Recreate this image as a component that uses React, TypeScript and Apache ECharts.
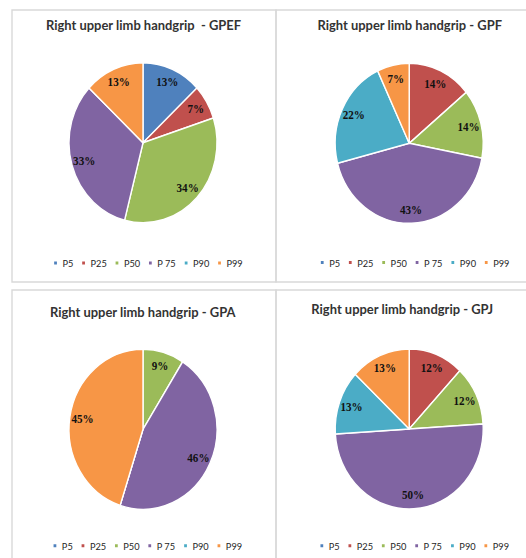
import React, { useEffect, useRef } from "react";
import * as echarts from "echarts";

// Percentile groups shown in every pie
const categories = ["P5", "P25", "P50", "P 75", "P90", "P99"];
const sliceColors = ["#4F81BD", "#C0504D", "#9BBB59", "#8064A2", "#4BACC6", "#F79646"];

// Share of subjects (%) per percentile group
const gpefValues = [13, 7, 34, 33, 0, 13];
const gpfValues = [0, 14, 14, 43, 22, 7];
const gpaValues = [0, 0, 9, 46, 0, 45];
const gpjValues = [0, 12, 12, 50, 13, 13];

const chartTitles = [
  "Right upper limb handgrip  - GPEF",
  "Right upper limb handgrip - GPF",
  "Right upper limb handgrip - GPA",
  "Right upper limb handgrip - GPJ",
];

// The whole figure is drawn slightly condensed horizontally
const SX = 0.925;
const W = 526 / SX;
const H = 558;
const X = (v: number) => v / SX;

const R = 80;

// Layout of the four panels (page pixels)
const panels = [
  { values: gpefValues, title: chartTitles[0], cx: 143, cy: 142.7, tx: 143.5, ty: 25, lx: 52.3, ly: 264 },
  { values: gpfValues, title: chartTitles[1], cx: 409.2, cy: 143.3, tx: 409.7, ty: 25, lx: 319, ly: 263.5 },
  { values: gpaValues, title: chartTitles[2], cx: 143, cy: 429.3, tx: 142.7, ty: 311.7, lx: 51.7, ly: 546.7 },
  { values: gpjValues, title: chartTitles[3], cx: 409.2, cy: 429, tx: 402.2, ty: 309.3, lx: 318.6, ly: 546.7 },
];

export default function App() {
  const ref = useRef<HTMLDivElement>(null);

  useEffect(() => {
    if (!ref.current) return;
    document.body.style.overflow = "hidden";
    const chart = echarts.init(ref.current, null, { renderer: "svg" });

    const series: any[] = [];
    panels.forEach((p) => {
      // filled slices
      series.push({
        type: "pie",
        center: [X(p.cx), p.cy],
        radius: R,
        startAngle: 90,
        clockwise: true,
        silent: true,
        label: { show: false },
        labelLine: { show: false },
        emphasis: { disabled: true },
        itemStyle: { borderColor: "#ffffff", borderWidth: 1.5 },
        data: p.values.map((v, i) => ({
          name: categories[i],
          value: v,
          itemStyle: { color: sliceColors[i] },
        })),
      });
      // transparent ring carrying the percentage labels near the rim
      series.push({
        type: "pie",
        center: [X(p.cx), p.cy],
        radius: [R * 0.58, R],
        startAngle: 90,
        clockwise: true,
        silent: true,
        labelLine: { show: false },
        emphasis: { disabled: true },
        itemStyle: { color: "rgba(0,0,0,0)", borderWidth: 0 },
        label: {
          show: true,
          position: "inside",
          formatter: (d: any) => (d.value ? `${d.value}%` : ""),
          fontFamily: "Liberation Serif",
          fontWeight: "bold",
          fontSize: 12,
          color: "#111111",
        },
        data: p.values.map((v, i) => ({ name: categories[i], value: v })),
      });
    });

    const legend = panels.map((p) => ({
      data: categories.map((n, i) => ({ name: n, itemStyle: { color: sliceColors[i] } })),
      orient: "horizontal",
      left: X(p.lx),
      top: p.ly - 6,
      padding: 0,
      icon: "rect",
      itemWidth: 5,
      itemHeight: 5,
      itemGap: 7.5,
      selectedMode: false,
      textStyle: { fontFamily: "Lato", fontSize: 10, color: "#262626" },
    }));

    const border = { fill: "none", stroke: "#d9d9d9", lineWidth: 1.5 };
    const graphic: any[] = [
      { type: "rect", shape: { x: X(12), y: 10, width: X(276) - X(12), height: 272 }, style: border, silent: true },
      { type: "rect", shape: { x: X(276), y: 10, width: 400, height: 272 }, style: border, silent: true },
      { type: "rect", shape: { x: X(12), y: 290, width: X(276) - X(12), height: 300 }, style: border, silent: true },
      { type: "rect", shape: { x: X(276), y: 290, width: 400, height: 300 }, style: border, silent: true },
      ...panels.map((p) => ({
        type: "text",
        x: X(p.tx),
        y: p.ty,
        silent: true,
        style: {
          text: p.title,
          align: "center",
          verticalAlign: "middle",
          fontFamily: "Lato",
          fontWeight: "bold",
          fontSize: 14,
          fill: "#333333",
        },
      })),
    ];

    chart.setOption({
      animation: false,
      backgroundColor: "#ffffff",
      legend,
      graphic,
      series,
    });

    return () => chart.dispose();
  }, []);

  return (
    <div
      ref={ref}
      style={{
        position: "absolute",
        left: 0,
        top: 0,
        width: W,
        height: H,
        transform: `scaleX(${SX})`,
        transformOrigin: "0 0",
      }}
    />
  );
}
